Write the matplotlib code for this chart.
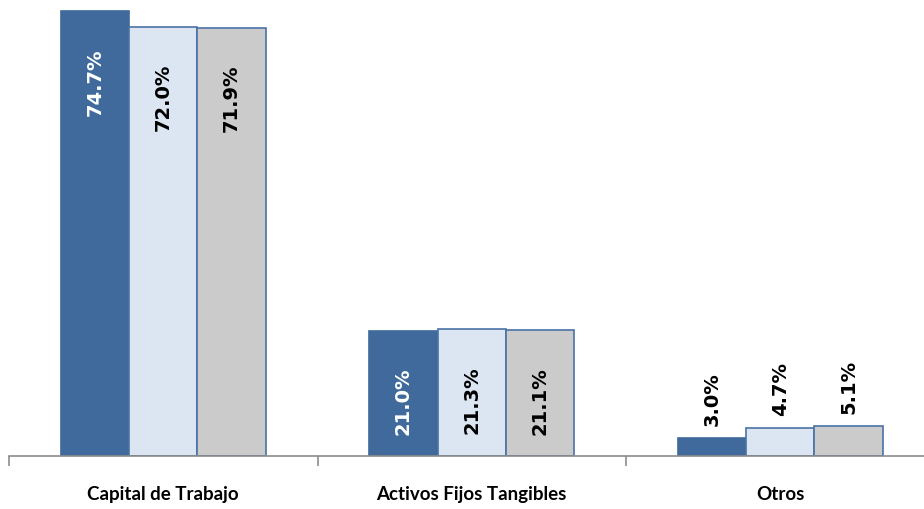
import numpy as np
import matplotlib
matplotlib.use('Agg')
import matplotlib.pyplot as plt

categories = ["Capital de Trabajo", "Activos Fijos Tangibles", "Otros"]
serie_a = [74.7, 21.0, 3.0]
serie_b = [72.0, 21.3, 4.7]
serie_c = [71.9, 21.1, 5.1]

colores = ["#3F6A9B", "#DCE6F2", "#CBCBCB"]
bordes = ["#3F6A9B", "#4A72A6", "#4A72A6"]
texto = ["white", "black", "black"]

fig = plt.figure(figsize=(9.24, 5.10), dpi=100)
px_unit = 5.957  # pixels per percentage point
ymax = 75.5
ax = fig.add_axes([9 / 924, 53 / 510, 925.5 / 924, ymax * px_unit / 510])

x = np.arange(len(categories))
ancho = 0.222
series = [serie_a, serie_b, serie_c]
for i, vals in enumerate(series):
    pos = x + (i - 1) * ancho
    ax.bar(pos, vals, width=ancho, color=colores[i], edgecolor=bordes[i],
           linewidth=1.2, zorder=2)
    for xp, v in zip(pos, vals):
        if v > 10:
            ax.text(xp, v - 36 / px_unit, f"{v:.1f}%", rotation=90, ha='center',
                    va='top', color=texto[i], fontsize=14, fontweight='bold',
                    family='DejaVu Sans')
        else:
            ax.text(xp, v + 13 / px_unit, f"{v:.1f}%", rotation=90, ha='center',
                    va='bottom', color='black', fontsize=14, fontweight='bold',
                    family='DejaVu Sans')

ax.set_xlim(-0.5, 2.5)
ax.set_ylim(0, ymax)
ax.set_yticks([])
for s in ['top', 'right', 'left']:
    ax.spines[s].set_visible(False)
ax.spines['bottom'].set_color('#8C8C8C')
ax.spines['bottom'].set_linewidth(1.2)

ax.set_xticks(x)
ax.set_xticklabels(categories, fontsize=13.5, fontweight='bold', family='Lato')
ax.tick_params(axis='x', which='major', length=0, pad=21)
ax.set_xticks([-0.5, 0.5, 1.5, 2.5], minor=True)
ax.tick_params(axis='x', which='minor', length=7, width=1.2, color='#8C8C8C')

fig.savefig("out.png", dpi=100)
